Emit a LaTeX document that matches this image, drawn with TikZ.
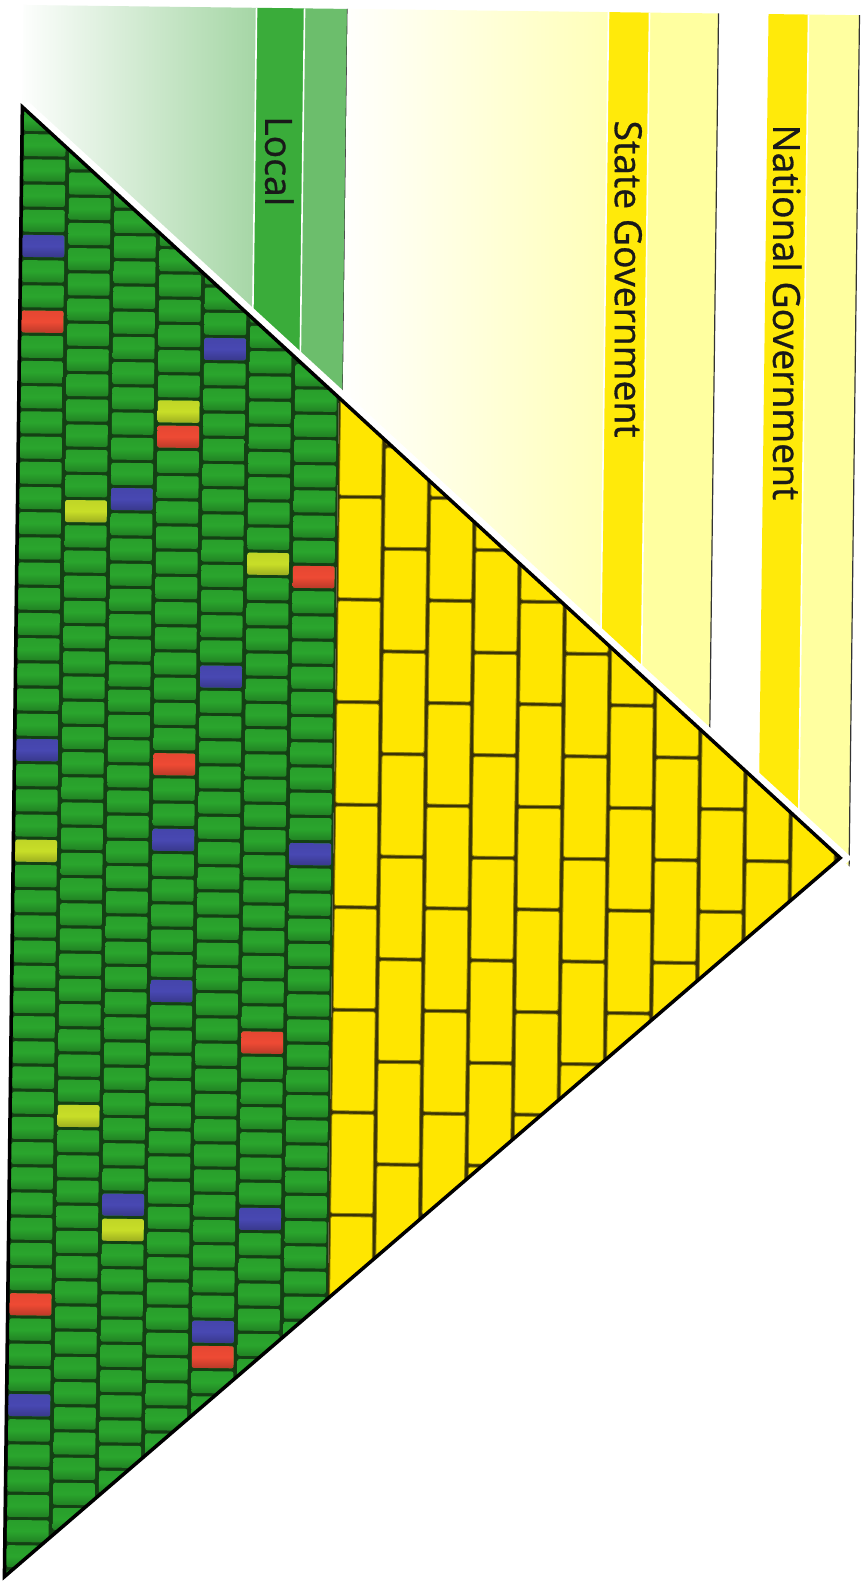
\documentclass[tikz,border=0pt]{standalone}
\usepackage{fontspec}
\setmainfont[FakeBold=0.8]{Open Sans}
\usetikzlibrary{calc}
\definecolor{grbrick}{RGB}{42,165,45}
\definecolor{grgap}{RGB}{20,64,20}
\definecolor{ybrick}{RGB}{255,230,0}
\definecolor{ygap}{RGB}{58,50,8}
\definecolor{bluebrick}{RGB}{72,72,178}
\definecolor{redbrick}{RGB}{238,74,52}
\definecolor{limebrick}{RGB}{200,222,40}
\definecolor{localband}{RGB}{58,172,58}
\definecolor{locallight}{RGB}{108,190,108}
\definecolor{localfade}{RGB}{165,214,165}
\definecolor{govband}{RGB}{255,234,10}
\definecolor{govlight}{RGB}{255,255,160}
\definecolor{govfade}{RGB}{255,255,185}

\begin{document}
\begin{tikzpicture}[x=1bp, y=-1bp,
  gbrick/.style={rounded corners=2bp, top color=#1!96!black,
                 bottom color=#1!78!black, middle color=#1},
  ybrickst/.style={rounded corners=2bp, fill=ybrick,
                   draw=ybrick!55!black, line width=0.8bp},
  lbl/.style={anchor=west, rotate=-90, inner sep=0pt, text=black!90,
              font=\fontsize{37.5}{40}\selectfont},
  rule/.style={draw=black!80, line width=1.2bp},
  gapline/.style={draw=white, line width=1.6bp}]

  \useasboundingbox (0,0) rectangle (866,1585);
  \fill[white] (0,0) rectangle (866,1585);

  \begin{scope}[rotate around={-0.7:(433,792)}]
  \coordinate (top)  at (14,112);
  \coordinate (bot)  at (14,1582);
  \coordinate (apex) at (841,853);

  % level bands, cut off by the upper side of the pyramid
  \begin{scope}
    \clip (-20,-20) -- (940,-20) -- ($(top)!1.12!(apex)$) -- (top) -- (-20,112) -- cycle;
    \shade[left color=white, right color=localfade] (14,10) rectangle (247,600);
    \fill[localband]  (247,10) rectangle (295,600);
    \fill[locallight] (295,10) rectangle (338,600);
    \draw[gapline] (247,10) -- (247,600) (295,10) -- (295,600);
    \draw[rule] (338,10) -- (338,600);

    \shade[left color=white, right color=govfade] (338,10) rectangle (599,900);
    \fill[govband]  (599,10) rectangle (640,900);
    \fill[govlight] (640,10) rectangle (709,900);
    \draw[gapline] (599,10) -- (599,900) (640,10) -- (640,900);
    \draw[rule] (709,10) -- (709,900);

    \fill[govband]  (759,10) rectangle (799,980);
    \fill[govlight] (799,10) rectangle (850,980);
    \draw[gapline] (799,10) -- (799,980);
    \draw[rule] (850,10) -- (850,980);

    \node[lbl] (local)    at (271,118) {Local};
    \node[lbl] (state)    at (620,118) {State Government};
    \node[lbl] (national) at (779,120) {National Government};
  \end{scope}

  \draw[white, line width=16bp] (top) -- (apex) -- (bot);

  % bricks
  \begin{scope}
    \clip (top) -- (apex) -- (bot) -- cycle;
    \fill[grgap] (0,100) rectangle (334,1600);
    \fill[ygap] (334,100) rectangle (900,1600);

    % green courses, 7 columns of short bricks
    \foreach \c in {0,...,6} {
      \pgfmathsetmacro\x{14+45.7*\c}
      \pgfmathsetmacro\off{isodd(\c) ? -0.5 : 12.1}
      \pgfmathtruncatemacro\ra{(112+0.896*(\x-14)-\off)/25.2-1}
      \pgfmathtruncatemacro\rb{(1582-0.8815*(\x-14)-\off)/25.2+1}
      \foreach \r in {\ra,...,\rb}
        \path[gbrick=grbrick] (\x+2,\off+25.2*\r+1) rectangle ++(41.7,22);
    }

    % odd bricks in the green part
    \foreach \c/\r/\col in {0/9/bluebrick, 0/12/redbrick, 0/29/bluebrick,
        0/33/limebrick, 0/51/redbrick, 0/55/bluebrick,
        1/20/limebrick, 1/44/limebrick,
        2/19/bluebrick, 2/47/bluebrick, 2/48/limebrick,
        3/16/limebrick, 3/17/redbrick, 3/30/redbrick, 3/33/bluebrick, 3/39/bluebrick,
        4/13/bluebrick, 4/26/bluebrick, 4/52/bluebrick, 4/53/redbrick,
        5/22/limebrick, 5/41/redbrick, 5/48/bluebrick,
        6/22/redbrick, 6/33/bluebrick} {
      \pgfmathsetmacro\x{14+45.7*\c}
      \pgfmathsetmacro\off{isodd(\c) ? -0.5 : 12.1}
      \path[gbrick=\col] (\x+2,\off+25.2*\r+1) rectangle ++(41.7,22);
    }

    % yellow courses, tall bricks
    \foreach \c in {0,...,11} {
      \pgfmathsetmacro\x{334+45.7*\c}
      \pgfmathsetmacro\off{isodd(\c) ? 36.5 : -15}
      \pgfmathtruncatemacro\ra{(112+0.896*(\x-14)-\off)/102.6-1}
      \pgfmathtruncatemacro\rb{(1582-0.8815*(\x-14)-\off)/102.6+1}
      \foreach \r in {\ra,...,\rb}
        \path[ybrickst] (\x+1.8,\off+102.6*\r+1.5) rectangle ++(42.1,99.4);
    }
  \end{scope}

  \draw[line width=3.5bp, line join=miter] (top) -- (apex) -- (bot) -- cycle;
  \end{scope}
\end{tikzpicture}
\end{document}
